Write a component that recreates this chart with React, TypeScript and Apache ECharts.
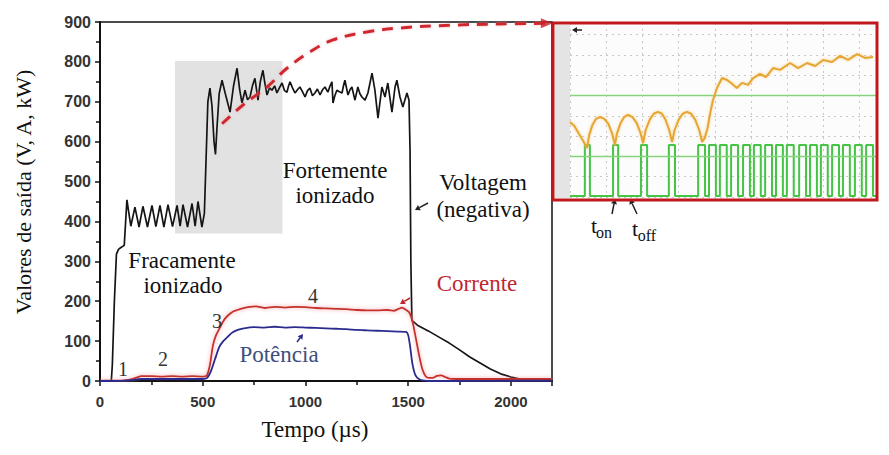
import React, { useEffect, useRef } from "react";
import * as echarts from "echarts";

// ---------- main chart data (time in µs, value in V / A / kW) ----------
const voltage: [number, number][] = [
  [0, 0], [55, 0], [60, 40], [70, 200], [80, 318], [90, 330], [100, 334], [118, 340],
  [131, 454], [150, 388], [170, 436], [190, 386], [209, 438], [231, 386], [253, 440],
  [272, 387], [292, 440], [311, 386], [331, 442], [353, 387], [375, 440], [390, 388],
  [404, 442], [426, 386], [448, 445], [463, 388], [477, 450], [496, 386], [508, 420],
  [525, 700], [535, 734], [545, 690], [555, 600], [562, 568], [570, 640], [580, 720],
  [594, 754], [610, 720], [633, 674], [650, 740], [667, 784], [680, 730], [691, 697],
  [706, 729], [718, 705], [730, 712], [742, 740], [754, 759], [769, 704], [780, 750],
  [793, 779], [803, 745], [813, 717], [825, 735], [837, 729], [850, 740], [861, 722],
  [873, 735], [886, 747], [898, 728], [910, 724], [918, 740], [925, 750], [937, 735],
  [949, 722], [961, 730], [973, 737], [986, 725], [998, 712], [1010, 728], [1022, 734],
  [1034, 715], [1046, 722], [1058, 732], [1071, 717], [1083, 730], [1095, 737],
  [1109, 724], [1120, 740], [1129, 750], [1134, 697], [1143, 715], [1153, 729],
  [1165, 725], [1178, 722], [1185, 740], [1192, 754], [1207, 717], [1217, 730],
  [1226, 737], [1241, 704], [1255, 737], [1265, 720], [1275, 712], [1290, 704],
  [1304, 722], [1324, 772], [1338, 729], [1353, 659], [1372, 737], [1387, 712],
  [1401, 747], [1421, 674], [1436, 737], [1445, 754], [1460, 712], [1474, 687],
  [1494, 722], [1504, 704], [1509, 580], [1513, 300], [1518, 152], [1545, 140],
  [1600, 125], [1650, 110], [1700, 95], [1750, 78], [1800, 60], [1850, 45], [1900, 30],
  [1950, 18], [2000, 10], [2050, 4], [2100, 1], [2200, 0],
];

const current: [number, number][] = [
  [0, 1], [100, 1], [140, 3], [180, 9], [200, 12], [250, 12], [300, 11], [350, 12],
  [400, 11], [450, 12], [500, 11], [520, 14], [535, 40], [550, 90], [565, 115],
  [580, 130], [600, 150], [620, 163], [650, 175], [680, 180], [720, 185], [760, 187],
  [800, 183], [850, 186], [900, 184], [950, 186], [1000, 185], [1050, 183],
  [1100, 182], [1150, 181], [1200, 180], [1250, 178], [1300, 177], [1350, 177],
  [1400, 178], [1430, 176], [1450, 180], [1470, 184], [1490, 178], [1505, 172],
  [1515, 160], [1525, 140], [1540, 100], [1555, 60], [1570, 28], [1585, 12],
  [1600, 8], [1620, 8], [1640, 13], [1660, 14], [1680, 10], [1700, 6], [1750, 5],
  [1800, 5], [2000, 5], [2200, 5],
];

const power: [number, number][] = [
  [0, 0], [100, 0], [150, 2], [200, 5], [300, 5], [400, 5], [500, 5], [520, 7],
  [540, 25], [560, 55], [580, 85], [600, 100], [620, 110], [640, 120], [670, 128],
  [700, 132], [750, 135], [800, 134], [850, 136], [900, 134], [950, 135], [1000, 134],
  [1050, 133], [1100, 132], [1150, 131], [1200, 130], [1250, 128], [1300, 127],
  [1350, 126], [1400, 125], [1450, 124], [1490, 123], [1500, 115], [1510, 85],
  [1520, 45], [1535, 15], [1555, 4], [1580, 1], [1600, 0], [2200, 1],
];

// dashed guide curve (zoom arrow)
const guide: [number, number][] = [
  [594, 645], [696, 692], [813, 737], [910, 784], [1022, 825], [1134, 855],
  [1299, 875], [1460, 885], [1703, 892], [1946, 895], [2175, 897],
];

// shaded zoom window [x0, y0, x1, y1]
const zoomWindow = [365, 370, 888, 802];

const xTickLabels = [0, 500, 1000, 1500, 2000];

// ---------- inset data (oscilloscope divisions) ----------
const insetSignal: [number, number][] = [
  [0, 3.69], [0.12, 3.5], [0.25, 3.1], [0.37, 2.75], [0.47, 2.41],
  [0.53, 3.05], [0.62, 3.55], [0.72, 3.85], [0.83, 3.94], [0.95, 3.85], [1.06, 3.6], [1.16, 3.15], [1.24, 2.56],
  [1.3, 3.15], [1.4, 3.65], [1.5, 3.95], [1.6, 4.04], [1.72, 3.95], [1.84, 3.65], [1.94, 3.2], [2.02, 2.66],
  [2.09, 3.3], [2.2, 3.8], [2.31, 4.1], [2.43, 4.19], [2.54, 4.1], [2.64, 3.8], [2.74, 3.3], [2.82, 2.71],
  [2.89, 3.3], [3.0, 3.8], [3.11, 4.1], [3.23, 4.19], [3.35, 4.1], [3.46, 3.8], [3.57, 3.3], [3.65, 2.71],
  [3.72, 2.9], [3.8, 3.4], [3.88, 4.2], [3.95, 4.78], [4.06, 5.37], [4.2, 5.86], [4.34, 5.76],
  [4.48, 5.57], [4.61, 5.37], [4.75, 5.62], [4.92, 5.52], [5.06, 5.86], [5.25, 6.06],
  [5.41, 5.91], [5.61, 6.35], [5.8, 6.26], [6.08, 6.6], [6.3, 6.35], [6.55, 6.6],
  [6.77, 6.45], [6.99, 6.75], [7.24, 6.65], [7.46, 6.95], [7.68, 6.75], [7.93, 7.04],
  [8.15, 6.85], [8.37, 6.9],
];

const pulseEdges: [number, number][] = [
  [0.41, 0.55], [1.19, 1.33], [1.96, 2.13], [2.73, 2.9],
  [3.54, 3.73], [3.84, 4.03], [4.14, 4.33], [4.45, 4.64], [4.78, 4.97], [5.08, 5.27],
  [5.39, 5.58], [5.69, 5.88], [5.99, 6.18], [6.33, 6.52], [6.63, 6.82], [6.93, 7.12],
  [7.24, 7.43], [7.54, 7.73], [7.87, 8.06], [8.18, 8.37],
];
const pulseHigh = 2.56;
const pulseLow = 0.05;
const refLevels = [2, 5];

const SERIF = "Liberation Serif";
const SANS = "Liberation Sans";

function buildPulses(): [number, number][] {
  const pts: [number, number][] = [[0, pulseLow]];
  for (const [a, b] of pulseEdges) {
    pts.push([a, pulseLow], [a, pulseHigh], [b, pulseHigh], [b, pulseLow]);
  }
  pts.push([8.48, pulseLow]);
  return pts;
}

function txt(text: string, x: number, y: number, color = "#111", size = 23, extra: any = {}) {
  return {
    type: "text",
    x,
    y,
    z: 50,
    style: {
      text,
      fill: color,
      fontSize: size,
      fontFamily: SERIF,
      align: "center",
      verticalAlign: "middle",
      ...extra,
    },
  };
}

function arrow(x1: number, y1: number, x2: number, y2: number, color: string) {
  const dx = x2 - x1;
  const dy = y2 - y1;
  const len = Math.hypot(dx, dy);
  const ux = dx / len;
  const uy = dy / len;
  const hl = 5;
  const hw = 3;
  const bx = x2 - ux * hl;
  const by = y2 - uy * hl;
  return [
    { type: "line", z: 50, shape: { x1, y1, x2: bx, y2: by }, style: { stroke: color, lineWidth: 1.5 } },
    {
      type: "polygon",
      z: 50,
      shape: { points: [[x2, y2], [bx - uy * hw, by + ux * hw], [bx + uy * hw, by - ux * hw]] },
      style: { fill: color },
    },
  ];
}

export default function App() {
  const ref = useRef<HTMLDivElement>(null);

  useEffect(() => {
    if (!ref.current) return;
    const chart = echarts.init(ref.current, undefined, { renderer: "svg" });

    const option: any = {
      animation: false,
      backgroundColor: "#ffffff",
      grid: [
        { left: 100, top: 22, width: 452, height: 359, show: true, borderColor: "#111", borderWidth: 1.5, backgroundColor: "transparent" },
        { left: 570, top: 23, width: 307, height: 174, show: false },
      ],
      xAxis: [
        {
          type: "value",
          gridIndex: 0,
          min: 0,
          max: 2200,
          interval: 500,
          axisLine: { lineStyle: { color: "#111", width: 2 } },
          axisTick: { show: true, length: 5, lineStyle: { color: "#111", width: 1.5 } },
          minorTick: { show: true, splitNumber: 2, length: 4, lineStyle: { color: "#111", width: 1.5 } },
          splitLine: { show: false },
          axisLabel: {
            color: "#333",
            fontFamily: SANS,
            fontWeight: "bold",
            fontSize: 15,
            margin: 13,
            showMaxLabel: false,
            formatter: (v: number) => (xTickLabels.includes(v) ? String(v) : ""),
          },
        },
        {
          type: "value",
          gridIndex: 1,
          min: 0,
          max: 8.48,
          interval: 1,
          axisLine: { show: false },
          axisTick: { show: false },
          axisLabel: { show: false },
          splitLine: { show: true, lineStyle: { color: "#c8c8c8", type: [2, 4], width: 1 } },
        },
      ],
      yAxis: [
        {
          type: "value",
          gridIndex: 0,
          min: 0,
          max: 900,
          interval: 100,
          axisLine: { show: true, lineStyle: { color: "#111", width: 2 } },
          axisTick: { show: true, length: 5, lineStyle: { color: "#111", width: 1.5 } },
          minorTick: { show: true, splitNumber: 2, length: 4, lineStyle: { color: "#111", width: 1.5 } },
          splitLine: { show: false },
          axisLabel: { color: "#333", fontFamily: SANS, fontWeight: "bold", fontSize: 16, margin: 9 },
        },
        {
          type: "value",
          gridIndex: 1,
          min: 0,
          max: 8.57,
          interval: 1,
          axisLine: { show: false },
          axisTick: { show: false },
          axisLabel: { show: false },
          splitLine: { show: true, lineStyle: { color: "#c8c8c8", type: [2, 4], width: 1 } },
        },
      ],
      series: [
        {
          type: "line",
          xAxisIndex: 0,
          yAxisIndex: 0,
          z: 1,
          data: [],
          silent: true,
          markArea: {
            silent: true,
            itemStyle: { color: "#e2e2e2" },
            data: [[{ coord: [zoomWindow[0], zoomWindow[1]] }, { coord: [zoomWindow[2], zoomWindow[3]] }]],
          },
        },
        {
          name: "Voltagem",
          type: "line",
          data: voltage,
          showSymbol: false,
          z: 3,
          lineStyle: { color: "#151515", width: 1.7 },
        },
        {
          name: "Corrente",
          type: "line",
          data: current,
          showSymbol: false,
          smooth: 0.2,
          z: 4,
          lineStyle: { color: "#c4302c", width: 1.8, shadowColor: "rgba(240,120,130,0.7)", shadowBlur: 4 },
        },
        {
          name: "Potência",
          type: "line",
          data: power,
          showSymbol: false,
          smooth: 0.2,
          z: 5,
          lineStyle: { color: "#2b2b8e", width: 1.8 },
        },
        {
          type: "line",
          data: guide,
          showSymbol: false,
          smooth: 0.4,
          z: 6,
          lineStyle: { color: "#d0282e", width: 3, type: [11, 8], shadowColor: "rgba(240,140,150,0.6)", shadowBlur: 3 },
        },
        {
          type: "scatter",
          data: [guide[guide.length - 1]],
          symbol: "triangle",
          symbolSize: [10, 12],
          symbolRotate: -90,
          z: 7,
          itemStyle: { color: "#c8202a" },
        },
        {
          type: "line",
          xAxisIndex: 1,
          yAxisIndex: 1,
          data: buildPulses(),
          showSymbol: false,
          z: 4,
          lineStyle: { color: "#45c445", width: 2 },
          markLine: {
            silent: true,
            symbol: "none",
            label: { show: false },
            lineStyle: { color: "#86d27e", type: "solid", width: 1.3 },
            data: refLevels.map((v) => ({ yAxis: v })),
          },
        },
        {
          type: "line",
          xAxisIndex: 1,
          yAxisIndex: 1,
          data: insetSignal,
          showSymbol: false,
          z: 5,
          lineStyle: { color: "#e6a630", width: 2, shadowColor: "rgba(245,200,120,0.8)", shadowBlur: 3 },
        },
      ],
      graphic: [
        { type: "rect", z: -1, shape: { x: 553, y: 23, width: 324, height: 177 }, style: { fill: "#fcfcfc" } },
        { type: "rect", z: 0, shape: { x: 555, y: 25, width: 15, height: 173 }, style: { fill: "#e4e4e4" } },
        { type: "rect", z: 60, shape: { x: 553, y: 23, width: 324, height: 177 }, style: { fill: "transparent", stroke: "#c1181e", lineWidth: 3 } },
        ...arrow(582, 30, 572, 30, "#222"),
        // axis titles
        {
          type: "text",
          x: 23,
          y: 192,
          rotation: Math.PI / 2,
          z: 50,
          style: { text: "Valores de saída (V, A, kW)", fill: "#111", fontSize: 22, fontFamily: SERIF, align: "center", verticalAlign: "middle" },
        },
        txt("Tempo (µs)", 315, 429, "#111", 23),
        // annotations
        txt("Fracamente", 182, 260),
        txt("ionizado", 183, 285),
        txt("Fortemente", 335, 170),
        txt("ionizado", 335, 195),
        txt("Voltagem", 483, 182),
        txt("(negativa)", 483, 209),
        txt("Corrente", 477, 283, "#c0282d"),
        txt("Potência", 279, 354, "#3d4f7f"),
        txt("1", 123, 369, "#333", 20),
        txt("2", 163, 359, "#333", 20),
        txt("3", 217, 321, "#333", 20),
        txt("4", 313, 296, "#333", 20),
        ...arrow(428, 203, 415, 210, "#222"),
        ...arrow(410, 298, 400, 304, "#c0282d"),
        ...arrow(297, 342, 303, 334, "#2b2b8e"),
        // t_on / t_off
        txt("t", 594, 225, "#111", 22),
        txt("on", 604, 232, "#111", 16),
        txt("t", 635, 228, "#111", 22),
        txt("off", 647, 235, "#111", 16),
        ...arrow(612, 214, 615, 199, "#222"),
        ...arrow(637, 214, 630, 199, "#222"),
      ],
    };

    chart.setOption(option);
    return () => chart.dispose();
  }, []);

  return <div ref={ref} style={{ position: "fixed", left: 0, top: 0, width: 889, height: 455 }} />;
}
